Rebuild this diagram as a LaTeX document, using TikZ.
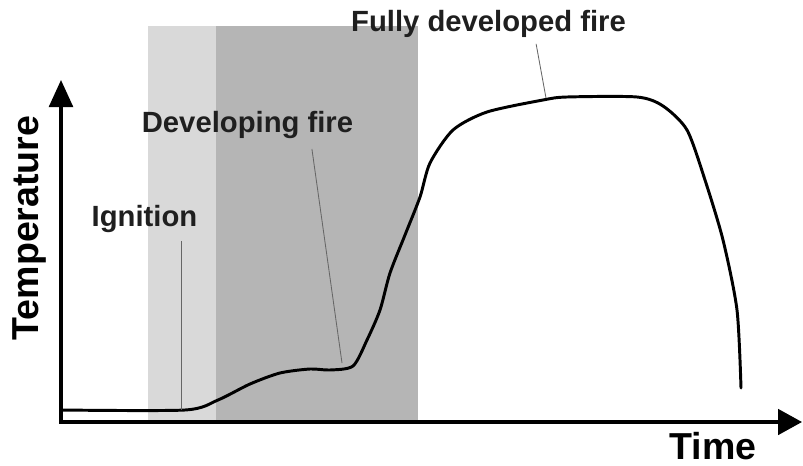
\documentclass[tikz,border=0pt]{standalone}
\usepackage{fontspec}
\setmainfont{Liberation Sans}
\usepackage{tikz}
\usetikzlibrary{arrows.meta}
\definecolor{ignitiongray}{gray}{0.85}
\definecolor{growthgray}{gray}{0.71}
\tikzstyle{phase} = [inner sep=0pt, 
text=black!88, 
font=\bfseries\fontsize{20.8}{24}\selectfont]
\tikzstyle{axislabel} = [inner sep=0pt, 
font=\bfseries\fontsize{26.7}{30}\selectfont]
\tikzstyle{leader} = [draw=black!60, line width=0.6pt]
\tikzstyle{axis} = [line width=2.2pt, 
{Triangle[length=0.68cm, width=0.6cm]}-{Triangle[length=0.6cm, width=0.64cm]}]
\tikzstyle{curve} = [line width=2.1pt, line join=round, line cap=round]
\begin{document}
\begin{tikzpicture}[x=0.025cm, y=-0.025cm]
        \useasboundingbox (0,0) rectangle (803,466);

        % phases
        \fill [ignitiongray] (148,26) rectangle (216,420);
        \fill [growthgray] (216,26) rectangle (418,420);

        % axes
        \coordinate (ytip) at (61,80);
        \coordinate (xtip) at (802,422);
        \draw [axis] (ytip) |- (xtip);
        \node (temp) [axislabel, rotate=90] at (29,228) {Temperature};
        \node (time) [axislabel] at (713,446) {Time};

        % fire curve
        \draw [curve] plot [smooth, tension=0.45] coordinates {
                (61,410) (185,410) (218,400) (250,384) (280,373) (310,369)
                (330,370) (353,366) (367,340) (380,310) (390,273) (405,235)
                (420,197) (430,163) (453,130) (487,112) (543,100) (567,97)
                (637,97) (663,106) (687,130) (705,180) (723,240) (737,310)
                (741,388)};

        % labels
        \node (ignition) [phase] at (144.5,219) {Ignition};
        \node (devfire) [phase] at (247.5,125) {Developing fire};
        \node (fullfire) [phase] at (488.5,24) {Fully developed fire};
        \coordinate (ignitionpt) at (181,410);
        \coordinate (devfirept) at (342,363);
        \coordinate (fullfirept) at (546,98);

        \draw [leader] ([yshift=-0.2cm]ignition.south -| ignitionpt) -- (ignitionpt);
        \draw [leader] ([xshift=1.61cm, yshift=-0.25cm]devfire.south) -- (devfirept);
        \draw [leader] ([xshift=1.19cm, yshift=-0.15cm]fullfire.south) -- (fullfirept);

\end{tikzpicture}
\end{document}
